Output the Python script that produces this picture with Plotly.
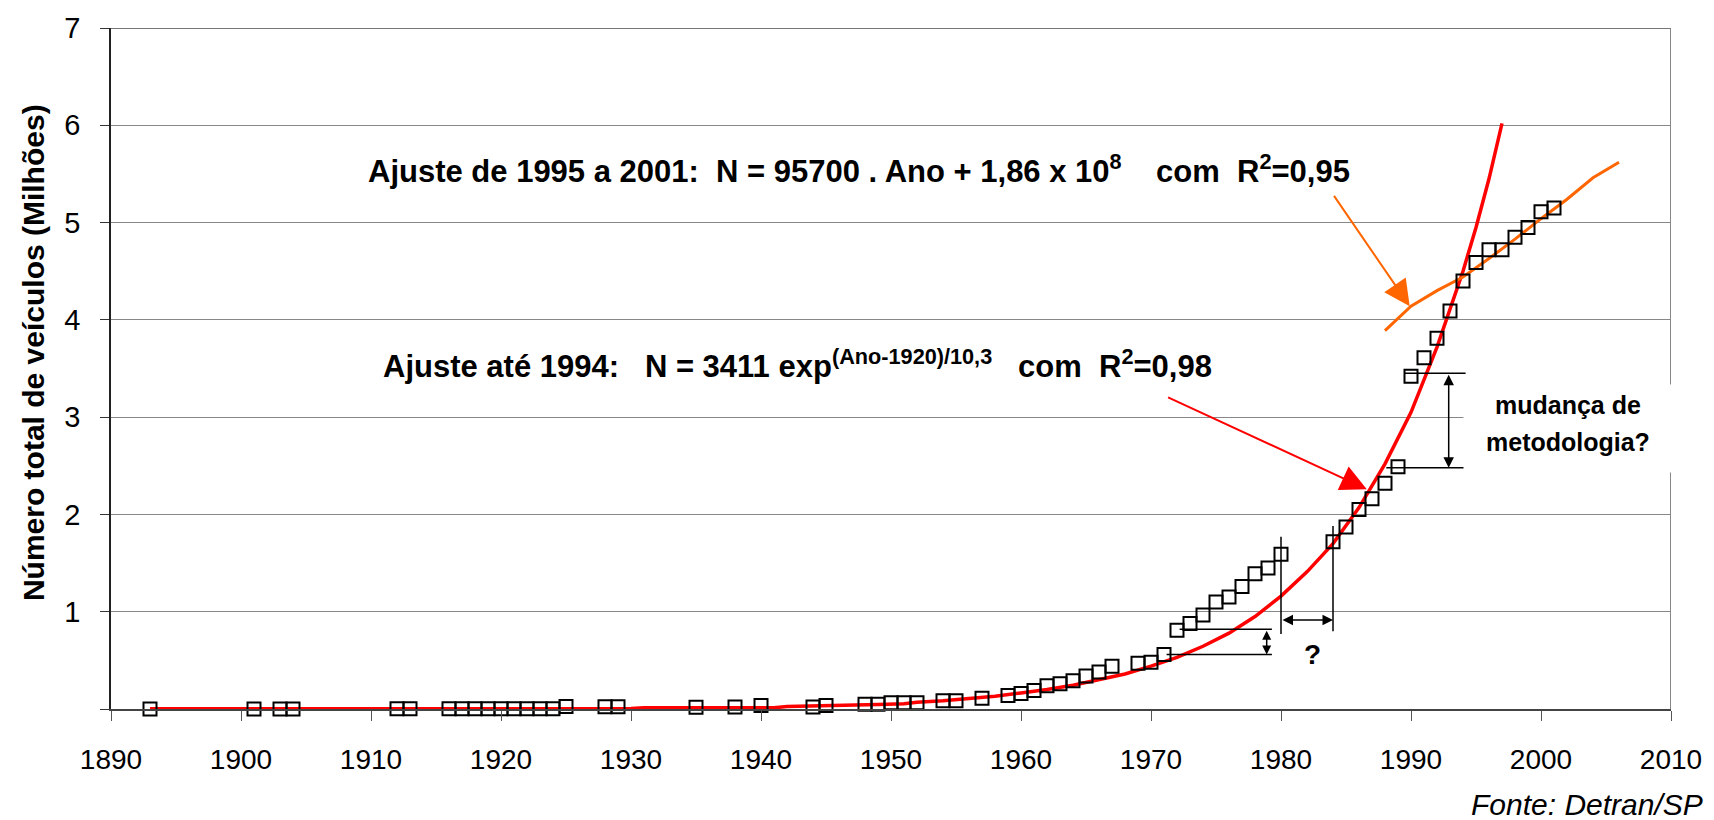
import plotly.graph_objects as go

# ---- data ----
obs_years = [1893, 1901, 1903, 1904, 1912, 1913, 1916, 1917, 1918, 1919, 1920, 1921, 1922, 1923,
             1924, 1925, 1928, 1929, 1935, 1938, 1940, 1944, 1945, 1948, 1949, 1950, 1951, 1952,
             1954, 1955, 1957, 1959, 1960, 1961, 1962, 1963, 1964, 1965, 1966, 1967, 1969, 1970,
             1971, 1972, 1973, 1974, 1975, 1976, 1977, 1978, 1979, 1980, 1984, 1985, 1986, 1987,
             1988, 1989, 1990, 1991, 1992, 1993, 1994, 1995, 1996, 1997, 1998, 1999, 2000, 2001]
obs_values = [0.0, 0.0, 0.0, 0.0, 0.002, 0.002, 0.003, 0.003, 0.003, 0.003, 0.003, 0.003, 0.003, 0.003,
              0.003, 0.025, 0.022, 0.022, 0.018, 0.02, 0.035, 0.02, 0.035, 0.05, 0.05, 0.065, 0.065, 0.065,
              0.085, 0.085, 0.11, 0.14, 0.16, 0.19, 0.24, 0.26, 0.29, 0.34, 0.38, 0.44, 0.47, 0.48,
              0.56, 0.81, 0.88, 0.965, 1.10, 1.15, 1.26, 1.39, 1.45, 1.59, 1.72, 1.87, 2.05, 2.16,
              2.32, 2.49, 3.42, 3.61, 3.81, 4.09, 4.40, 4.59, 4.72, 4.72, 4.85, 4.95, 5.11, 5.15]

exp_fit_years = [1893, 1900, 1910, 1920, 1930, 1931, 1941, 1942, 1948, 1949, 1951, 1952, 1954, 1956,
                 1958, 1960, 1962, 1964, 1966, 1968, 1970, 1972, 1974, 1976, 1978, 1980, 1982, 1984,
                 1986, 1988, 1990, 1992, 1994, 1995, 1996, 1997]
exp_fit_values = [0.002, 0.002, 0.002, 0.003, 0.004, 0.012, 0.013, 0.025, 0.035, 0.045, 0.055, 0.07, 0.085, 0.105,
                  0.13, 0.165, 0.20, 0.245, 0.30, 0.36, 0.44, 0.53, 0.645, 0.78, 0.95, 1.16, 1.41, 1.70,
                  2.07, 2.52, 3.05, 3.72, 4.50, 4.95, 5.45, 6.02]

lin_fit_years = [1988, 1990, 1992, 1994, 1996, 1998, 2000, 2002, 2004, 2005, 2006]
lin_fit_values = [3.89, 4.14, 4.30, 4.44, 4.63, 4.83, 5.04, 5.24, 5.46, 5.54, 5.62]

x_tick_values = [1890, 1900, 1910, 1920, 1930, 1940, 1950, 1960, 1970, 1980, 1990, 2000, 2010]
x_tick_labels = ["1890", "1900", "1910", "1920", "1930", "1940", "1950", "1960", "1970", "1980",
                 "1990", "2000", "2010"]
y_tick_values = [0, 1, 2, 3, 4, 5, 6, 7]
y_tick_labels = ["", "1", "2", "3", "4", "5", "6", "7"]

FONT = "Liberation Sans, Arial, sans-serif"
NB = "\u00a0"

fig = go.Figure()
fig.add_trace(go.Scatter(x=exp_fit_years, y=exp_fit_values, mode="lines",
                         line=dict(color="#FF0000", width=3.5), cliponaxis=False))
fig.add_trace(go.Scatter(x=lin_fit_years, y=lin_fit_values, mode="lines",
                         line=dict(color="#FF6600", width=3), cliponaxis=False))
fig.add_trace(go.Scatter(x=obs_years, y=obs_values, mode="markers", cliponaxis=False,
                         marker=dict(symbol="square-open", size=13, color="black",
                                     line=dict(width=2))))

line_style = dict(color="black", width=1.5)
shapes = [
    dict(type="line", xref="x", yref="y", x0=1980, x1=1980, y0=0.77, y1=1.77, line=line_style),
    dict(type="line", xref="x", yref="y", x0=1984, x1=1984, y0=0.80, y1=1.88, line=line_style),
    dict(type="line", xref="x", yref="y", x0=1972.2, x1=1979.3, y0=0.82, y1=0.82, line=line_style),
    dict(type="line", xref="x", yref="y", x0=1971.2, x1=1979.3, y0=0.56, y1=0.56, line=line_style),
    dict(type="line", xref="x", yref="y", x0=1989.5, x1=1994.2, y0=3.45, y1=3.45, line=line_style),
    dict(type="line", xref="x", yref="y", x0=1988.1, x1=1994.2, y0=2.48, y1=2.48, line=line_style),
    dict(type="line", xref="x", yref="y", x0=2010, x1=2010, y0=0, y1=7, line=dict(color="#888", width=2)),
    dict(type="line", xref="x", yref="y", x0=1890, x1=2010, y0=7, y1=7, line=dict(color="#777", width=2)),
]

big = dict(family=FONT, size=31, color="black")
annotations = [
    # fit labels
    dict(xref="x", yref="y", x=1909.6, y=5.55, xanchor="left", yanchor="middle", showarrow=False,
         text="<b>Ajuste de 1995 a 2001:" + NB * 2 + "N = 95700 . Ano + 1,86 x 10<sup>8</sup>" + NB * 4
              + "com" + NB * 2 + "R<sup>2</sup>=0,95</b>", font=big),
    dict(xref="x", yref="y", x=1910.8, y=3.545, xanchor="left", yanchor="middle", showarrow=False,
         text="<b>Ajuste até 1994:" + NB * 3 + "N = 3411 exp<sup>(Ano-1920)/10,3</sup>" + NB * 3
              + "com" + NB * 2 + "R<sup>2</sup>=0,98</b>", font=big),
    # pointer arrows
    dict(xref="x", yref="y", axref="x", ayref="y", x=1989.9, y=4.14, ax=1984.0, ay=5.29, text="",
         showarrow=True, arrowhead=2, arrowsize=2.6, arrowwidth=2, arrowcolor="#FF6600"),
    dict(xref="x", yref="y", axref="x", ayref="y", x=1986.6, y=2.26, ax=1971.2, ay=3.21, text="",
         showarrow=True, arrowhead=2, arrowsize=2.6, arrowwidth=2, arrowcolor="#FF0000"),
    # dimension arrows
    dict(xref="x", yref="y", axref="x", ayref="y", x=1984, y=0.914, ax=1980, ay=0.914, text="",
         showarrow=True, arrowside="end+start", arrowhead=2, startarrowhead=2, arrowsize=1.4,
         startarrowsize=1.4, arrowwidth=1.5, arrowcolor="black"),
    dict(xref="x", yref="y", axref="x", ayref="y", x=1978.9, y=0.56, ax=1978.9, ay=0.82, text="",
         showarrow=True, arrowside="end+start", arrowhead=2, startarrowhead=2, arrowsize=1.2,
         startarrowsize=1.2, arrowwidth=1.5, arrowcolor="black"),
    dict(xref="x", yref="y", axref="x", ayref="y", x=1992.9, y=2.48, ax=1992.9, ay=3.45, text="",
         showarrow=True, arrowside="end+start", arrowhead=2, startarrowhead=2, arrowsize=1.4,
         startarrowsize=1.4, arrowwidth=1.5, arrowcolor="black"),
    dict(xref="x", yref="y", x=1982.4, y=0.56, showarrow=False, text="<b>?</b>",
         font=dict(family=FONT, size=28, color="black")),
    # white label box
    dict(xref="x", yref="y", x=2002.8, y=2.88, showarrow=False, text=NB, bgcolor="white",
         width=226, height=87, borderpad=0),
    dict(xref="x", yref="y", x=2002.1, y=3.13, showarrow=False, text="<b>mudança de</b>",
         font=dict(family=FONT, size=25, color="black")),
    dict(xref="x", yref="y", x=2002.1, y=2.74, showarrow=False, text="<b>metodologia?</b>",
         font=dict(family=FONT, size=25, color="black")),
    # axis title and source
    dict(xref="paper", yref="paper", x=-0.05, y=0.5226, xanchor="center", yanchor="middle",
         showarrow=False, textangle=-90,
         text="<b>Número total de veículos (Milhões)</b>", font=dict(family=FONT, size=30, color="black")),
    dict(xref="paper", yref="paper", x=1.0218, y=-0.1397, xanchor="right", yanchor="middle",
         showarrow=False, text="<i>Fonte: Detran/SP</i>", font=dict(family=FONT, size=30, color="black")),
]

fig.update_layout(
    width=1714, height=820,
    margin=dict(l=111, r=43, t=22, b=111),
    paper_bgcolor="white", plot_bgcolor="white",
    showlegend=False,
    font=dict(family=FONT, color="black"),
    shapes=shapes, annotations=annotations,
    xaxis=dict(range=[1890, 2010], tickvals=x_tick_values, ticktext=x_tick_labels,
               ticks="outside", ticklen=10, tickcolor="#555", tickwidth=1,
               showline=True, linecolor="#444", linewidth=2, showgrid=False, zeroline=False,
               tickfont=dict(family=FONT, size=28, color="black"), ticklabelstandoff=14),
    yaxis=dict(range=[0, 7], tickvals=y_tick_values, ticktext=y_tick_labels,
               ticks="outside", ticklen=9, tickcolor="#333", tickwidth=1,
               showline=True, linecolor="#222", linewidth=1.5, showgrid=True, gridcolor="#888",
               gridwidth=1, zeroline=False,
               tickfont=dict(family=FONT, size=29, color="black"), ticklabelstandoff=14),
)

fig.write_html("out.html", config={"displayModeBar": False},
               post_script="document.body.style.margin='0px';document.body.style.overflow='hidden';")
